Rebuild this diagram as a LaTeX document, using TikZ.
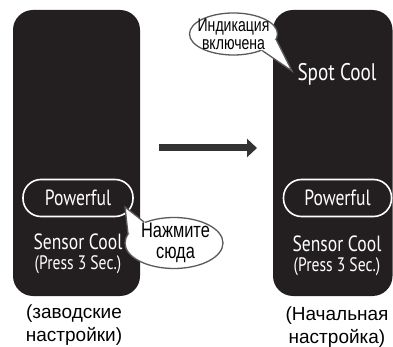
\documentclass[tikz,border=0pt]{standalone}
\usepackage{fontspec}
\setmainfont{Liberation Sans}
\newfontfamily\condfont[FakeStretch=0.8]{PT Sans}
\newfontfamily\narrowfont[FakeStretch=0.78]{Liberation Sans}
\newfontfamily\narrowerfont[FakeStretch=0.76]{Liberation Sans}
\usetikzlibrary{arrows.meta,shapes.geometric}
\definecolor{panel}{HTML}{231F20}
\definecolor{arrowc}{HTML}{333333}
\definecolor{bubblec}{HTML}{5A5A5A}
\newcommand{\presssize}{\fontsize{19.5}{19.5}\selectfont}
\begin{document}
\begin{tikzpicture}[x=1pt,y=-1pt,
  panelbox/.style={fill=panel,rounded corners=20pt,inner sep=0pt},
  pill/.style={draw=white,line width=1.6pt,rounded corners=18pt,minimum height=37pt,inner sep=0pt},
  big/.style={text=white,inner sep=0pt,font=\condfont\fontsize{22}{22}\selectfont},
  spotst/.style={text=white,inner sep=0pt,font=\condfont\fontsize{24}{24}\selectfont},
  sensst/.style={text=white,inner sep=0pt,align=center,font=\condfont\fontsize{22}{20}\selectfont},
  bubble/.style={ellipse,draw=bubblec,fill=white,line width=1.3pt,inner sep=0pt},
  btext/.style={inner sep=0pt,align=center,font=\narrowfont\fontsize{21}{21}\selectfont},
  btexttwo/.style={inner sep=0pt,align=center,font=\narrowerfont\fontsize{18.5}{18.5}\selectfont},
  caption/.style={inner sep=0pt,align=center,font=\fontsize{19}{23}\selectfont}]
\useasboundingbox (0,0) rectangle (393,347);
% panels
\node[panelbox,minimum width=127pt,minimum height=286pt] (lp) at (76.5,153) {};
\node[panelbox,minimum width=119.5pt,minimum height=286pt] (rp) at (332.75,153) {};
% left panel content
\node[pill,minimum width=110pt] (lpill) at (78,198) {};
\node[big] (lpow) at (lpill.center) {Powerful};
\node[sensst] (lsens) at (78,254) {Sensor Cool\\{\presssize(Press 3 Sec.)}};
% right panel content
\node[spotst] (spot) at (337,74) {Spot Cool};
\node[pill,minimum width=108pt] (rpill) at (337.5,198) {};
\node[big] (rpow) at (rpill.center) {Powerful};
\node[sensst] (rsens) at (337,256) {Sensor Cool\\{\presssize(Press 3 Sec.)}};
% arrow
\coordinate (a1) at (159,148);
\coordinate (a2) at (257,148);
\draw[arrowc,line width=7pt,-{Triangle[width=18pt,length=10pt]}] (a1) -- (a2);
% bubble: press here
\node[bubble,minimum width=98pt,minimum height=51pt] (b1) at (174,243) {};
\coordinate (t1) at (125,207);
\fill[white] (b1.145) -- (t1) -- (b1.168) -- (b1.center) -- cycle;
\draw[bubblec,line width=1.3pt,line join=miter] (b1.145) -- (t1) -- (b1.168);
\node[btext] (b1t) at (175.5,243) {Нажмите\\сюда};
% bubble: indication on
\node[bubble,minimum width=88pt,minimum height=42pt] (b2) at (233.5,34) {};
\coordinate (t2) at (292,71);
\fill[white] (b2.-8) -- (t2) -- (b2.-30) -- (b2.center) -- cycle;
\draw[bubblec,line width=1.3pt,line join=miter] (b2.-8) -- (t2) -- (b2.-30);
\node[btexttwo] (b2t) at (b2.center) {Индикация\\включена};
% captions
\node[caption] (lcap) at (74,325) {(заводские\\настройки)};
\node[caption] (rcap) at (337,327) {(Начальная\\настройка)};
\end{tikzpicture}
\end{document}
